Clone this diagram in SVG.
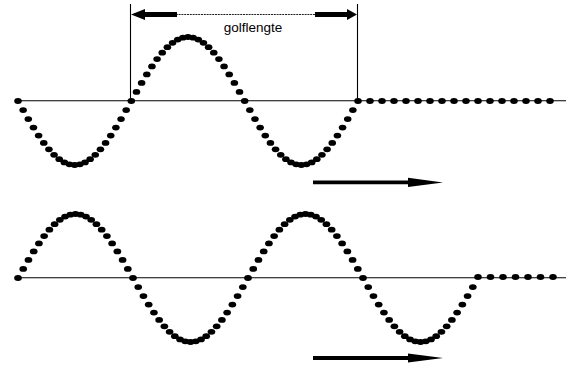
<svg xmlns="http://www.w3.org/2000/svg" xmlns:xlink="http://www.w3.org/1999/xlink" width="570" height="365" viewBox="0 0 570 365">
<style>
.axis{stroke:#000;stroke-width:1.1;fill:none}
.dot{fill:#000}
.thin{stroke:#222;stroke-width:1;stroke-dasharray:2 0.8;fill:none}
.txt{font-family:"Liberation Sans",Arial,sans-serif;font-size:13.5px;fill:#000}
</style>
<defs>
<ellipse id="d" class="dot" cx="0" cy="0" rx="3.8" ry="2.9"/>
<g id="half">
<use xlink:href="#d" x="0" y="0"/>
<use xlink:href="#d" x="5.15" y="9.11"/>
<use xlink:href="#d" x="10.30" y="18.03"/>
<use xlink:href="#d" x="15.46" y="26.59"/>
<use xlink:href="#d" x="20.61" y="34.60"/>
<use xlink:href="#d" x="25.76" y="41.91"/>
<use xlink:href="#d" x="30.91" y="48.36"/>
<use xlink:href="#d" x="36.06" y="53.84"/>
<use xlink:href="#d" x="41.22" y="58.21"/>
<use xlink:href="#d" x="46.37" y="61.41"/>
<use xlink:href="#d" x="51.52" y="63.35"/>
<use xlink:href="#d" x="56.67" y="64"/>
<use xlink:href="#d" x="61.82" y="63.35"/>
<use xlink:href="#d" x="66.98" y="61.41"/>
<use xlink:href="#d" x="72.13" y="58.21"/>
<use xlink:href="#d" x="77.28" y="53.84"/>
<use xlink:href="#d" x="82.43" y="48.36"/>
<use xlink:href="#d" x="87.58" y="41.91"/>
<use xlink:href="#d" x="92.74" y="34.60"/>
<use xlink:href="#d" x="97.89" y="26.59"/>
<use xlink:href="#d" x="103.04" y="18.03"/>
<use xlink:href="#d" x="108.19" y="9.11"/>
</g>
</defs>

<g id="top-wave">
<line class="axis" x1="17" y1="100.8" x2="566" y2="100.8"/>
<use xlink:href="#half" transform="translate(18,101)"/>
<use xlink:href="#half" transform="translate(131.33,101) scale(1,-1)"/>
<use xlink:href="#half" transform="translate(244.67,101)"/>
<g id="top-flat">
<use xlink:href="#d" x="358" y="101"/>
<use xlink:href="#d" x="370" y="101"/>
<use xlink:href="#d" x="382" y="101"/>
<use xlink:href="#d" x="394" y="101"/>
<use xlink:href="#d" x="406" y="101"/>
<use xlink:href="#d" x="418" y="101"/>
<use xlink:href="#d" x="430" y="101"/>
<use xlink:href="#d" x="442" y="101"/>
<use xlink:href="#d" x="454" y="101"/>
<use xlink:href="#d" x="466" y="101"/>
<use xlink:href="#d" x="478" y="101"/>
<use xlink:href="#d" x="490" y="101"/>
<use xlink:href="#d" x="502" y="101"/>
<use xlink:href="#d" x="514" y="101"/>
<use xlink:href="#d" x="526" y="101"/>
<use xlink:href="#d" x="538" y="101"/>
<use xlink:href="#d" x="550" y="101"/>
</g>
</g>

<g id="wavelength">
<line class="axis" x1="130.5" y1="4" x2="130.5" y2="101"/>
<line class="axis" x1="357.5" y1="4" x2="357.5" y2="101"/>
<line class="thin" x1="145" y1="14.5" x2="347" y2="14.5"/>
<polygon points="131,14.5 145,9 145,12 177,12 177,17 145,17 145,20" fill="#000"/>
<polygon points="357,14.5 347,9 347,12 315,12 315,17 347,17 347,20" fill="#000"/>
<text class="txt" x="253" y="32" text-anchor="middle">golflengte</text>
</g>

<g id="arrow-top">
<polygon points="313,180.5 408,180.5 408,177.8 443,182.4 408,187 408,184.3 313,184.3" fill="#000"/>
</g>

<g id="bottom-wave">
<line class="axis" x1="17" y1="277.8" x2="566" y2="277.8"/>
<use xlink:href="#half" transform="translate(18,278) scale(1.015,-1)"/>
<use xlink:href="#half" transform="translate(133,278) scale(1.015,1)"/>
<use xlink:href="#half" transform="translate(248,278) scale(1.015,-1)"/>
<use xlink:href="#half" transform="translate(363,278) scale(1.015,1)"/>
<g id="bottom-flat">
<use xlink:href="#d" x="478" y="277"/>
<use xlink:href="#d" x="490.5" y="277"/>
<use xlink:href="#d" x="503" y="277"/>
<use xlink:href="#d" x="515.5" y="277"/>
<use xlink:href="#d" x="528" y="277"/>
<use xlink:href="#d" x="540.5" y="277"/>
<use xlink:href="#d" x="553" y="277"/>
</g>
</g>

<g id="arrow-bottom">
<polygon points="313,356.1 408,356.1 408,353.4 443,358 408,362.6 408,359.9 313,359.9" fill="#000"/>
</g>
</svg>
